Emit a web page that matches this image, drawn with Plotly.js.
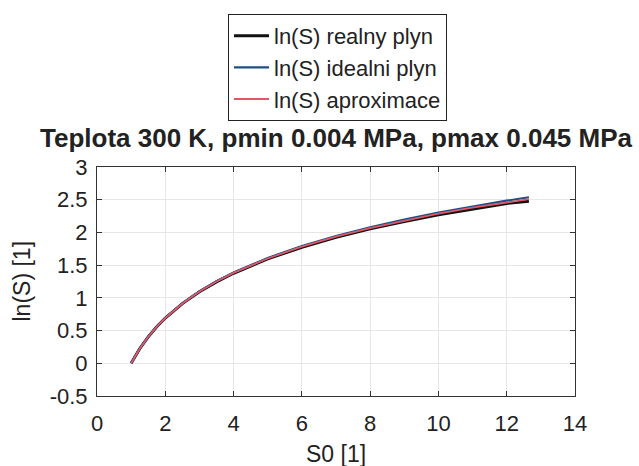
<!DOCTYPE html>
<html>
<head>
<meta charset="utf-8">
<script src="https://cdn.plot.ly/plotly-3.0.1.min.js"></script>
<style>html,body{margin:0;padding:0;background:#fff;}#chart{width:639px;height:466px;}</style>
</head>
<body>
<div id="chart"></div>
<script>
// S0 values (x)
var s0 = [1.0, 1.25, 1.5, 1.75, 2.0, 2.5, 3.0, 3.5, 4.0, 5.0, 6.0, 7.0, 8.0, 9.0, 10.0, 11.0, 12.0, 12.65];
// ln(S) real gas
var lnReal = [0.0, 0.223, 0.404, 0.558, 0.691, 0.912, 1.093, 1.245, 1.376, 1.595, 1.774, 1.924, 2.054, 2.168, 2.270, 2.361, 2.443, 2.478];
// ln(S) ideal gas
var lnIdeal = [0.0, 0.223, 0.405, 0.560, 0.693, 0.916, 1.099, 1.253, 1.386, 1.609, 1.792, 1.946, 2.079, 2.197, 2.303, 2.398, 2.485, 2.538];
// ln(S) approximation
var lnApprox = [0.0, 0.223, 0.405, 0.559, 0.692, 0.914, 1.096, 1.249, 1.381, 1.602, 1.783, 1.935, 2.067, 2.183, 2.287, 2.380, 2.464, 2.508];

var seriesNames = ['ln(S) realny plyn', 'ln(S) idealni plyn', 'ln(S) aproximace'];
var xTicks = [0, 2, 4, 6, 8, 10, 12, 14];
var yTicks = [-0.5, 0, 0.5, 1, 1.5, 2, 2.5, 3];
var titleText = 'Teplota 300 K, pmin 0.004 MPa, pmax 0.045 MPa';
var xTitle = 'S0 [1]';
var yTitle = 'ln(S) [1]';

var font = 'Liberation Sans, Arial, sans-serif';

var traces = [
  {x: s0, y: lnReal, name: seriesNames[0], mode: 'lines', legendgroup: 'a',
   line: {color: '#111111', width: 3}},
  {x: s0, y: lnIdeal, name: seriesNames[1], mode: 'lines', legendgroup: 'b',
   line: {color: '#1d4f86', width: 2.2}},
  {x: s0, y: lnApprox, name: seriesNames[2], mode: 'lines', legendgroup: 'c',
   line: {color: '#e05868', width: 1.8}}
];

var axisCommon = {
  showline: true, linecolor: '#333', linewidth: 1, mirror: 'ticks',
  ticks: 'inside', ticklen: 5, tickcolor: '#333',
  showgrid: true, gridcolor: '#e6e6e6', gridwidth: 1,
  zeroline: false, automargin: false,
  tickfont: {family: font, size: 22, color: '#222'}
};

// plot area in pixels: x 97..575, y 167..396
var plotW = 478, plotH = 229;

var layout = {
  width: 639, height: 466,
  paper_bgcolor: '#ffffff', plot_bgcolor: '#ffffff',
  margin: {l: 97, r: 64, t: 167, b: 70, autoexpand: false},
  font: {family: font, color: '#222'},
  title: {
    text: titleText,
    font: {family: font, size: 26, color: '#222', weight: 'bold'},
    x: 0.5, xref: 'paper', xanchor: 'center',
    y: 1 - 138 / 466, yref: 'container', yanchor: 'middle'
  },
  xaxis: Object.assign({}, axisCommon, {
    range: [0, 14], tickvals: xTicks, ticktext: xTicks.map(String),
    ticklabelstandoff: 8
  }),
  yaxis: Object.assign({}, axisCommon, {
    range: [-0.5, 3], tickvals: yTicks, ticktext: yTicks.map(String),
    ticklabelstandoff: 4
  }),
  annotations: [
    {text: xTitle, xref: 'paper', yref: 'paper', x: 0.5, y: (396 - 454) / plotH,
     xanchor: 'center', yanchor: 'middle', showarrow: false,
     font: {family: font, size: 23, color: '#222'}},
    {text: yTitle, xref: 'paper', yref: 'paper', x: (21 - 97) / plotW, y: 0.5,
     xanchor: 'center', yanchor: 'middle', showarrow: false, textangle: -90,
     font: {family: font, size: 23, color: '#222'}}
  ],
  showlegend: true,
  legend: {
    x: 228 / 639, xref: 'container', xanchor: 'left',
    y: 1 - 14 / 466, yref: 'container', yanchor: 'top',
    bgcolor: '#ffffff', bordercolor: '#222', borderwidth: 1,
    font: {family: font, size: 22, color: '#222'},
    itemwidth: 35,
    traceorder: 'grouped', tracegroupgap: 0
  }
};

Plotly.newPlot('chart', traces, layout, {displayModeBar: false, staticPlot: true});
</script>
</body>
</html>
